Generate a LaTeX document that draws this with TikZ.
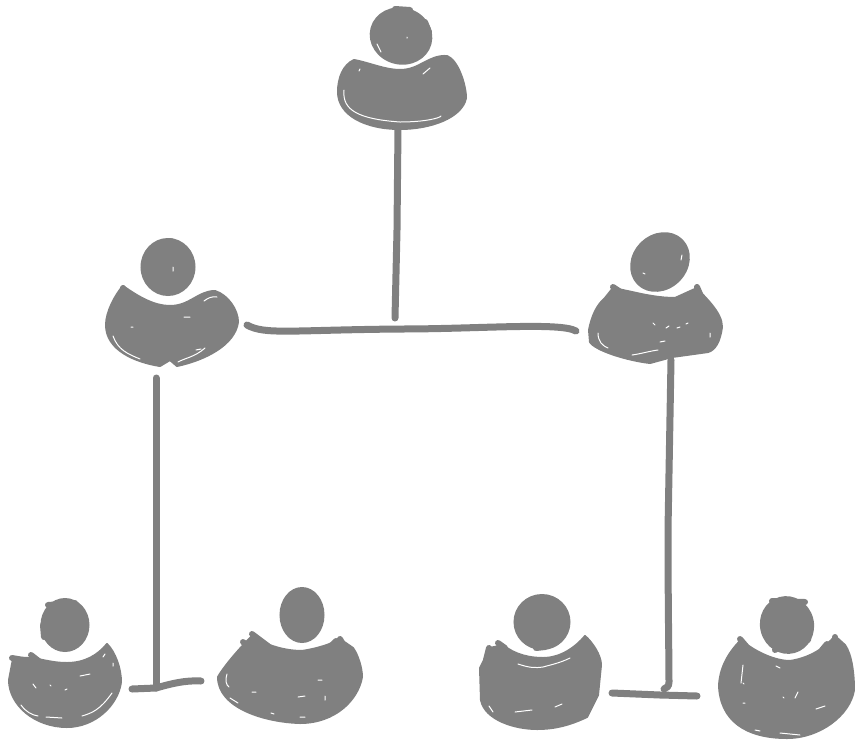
\documentclass[tikz,border=0pt]{standalone}
\usetikzlibrary{shapes.geometric}
\definecolor{sketch}{HTML}{808080}
\tikzset{
    head/.style={ellipse,fill=sketch,draw=sketch,line width=2pt,inner sep=0pt},
    body/.style={fill=sketch,draw=sketch,line width=2pt,line join=round},
    blob/.style={draw=sketch,line width=6pt,line cap=round},
    link/.style={draw=sketch,line width=7pt,line cap=round,line join=round},
    gap/.style={draw=white,line width=1pt,line cap=round}
}
\begin{document}
\begin{tikzpicture}[x=1pt,y=-1pt]
        \useasboundingbox (0,0) rectangle (855,740);

        % heads
        \node (H1) at (401,36) [head,rotate=-15,minimum width=61pt,minimum height=55pt]{};
        \node (H2) at (168,267) [head,minimum width=53pt,minimum height=56pt]{};
        \node (H3) at (660,262) [head,rotate=45,minimum width=62pt,minimum height=53pt]{};
        \node (H4) at (65,625) [head,minimum width=47pt,minimum height=52pt]{};
        \node (H5) at (302,615) [head,minimum width=43pt,minimum height=54pt]{};
        \node (H6) at (542,622) [head,minimum width=55pt,minimum height=54pt]{};
        \node (H7) at (787,625) [head,rotate=15,minimum width=52pt,minimum height=56pt]{};

        % lumps on the heads
        \path[blob] (395,9) -- (410,10);
        \path[blob] (425,22) -- (429,32);
        \path[blob] (171,241) -- (178,245);
        \path[blob] (48,605) -- (75,603);
        \path[blob] (43,625) -- (44,637);
        \path[blob] (302,590) -- (312,597);
        \path[blob] (536,648) -- (545,647);
        \path[blob] (772,601) -- (805,602);
        \path[blob] (775,650) -- (782,645);
        \path[blob] (810,625) -- (808,640);

        % bodies
        \path[body] (354,60) .. controls (370,63) and (385,70) .. (400,70) .. controls (420,70) and (428,55) .. (447,56)
            .. controls (458,60) and (466,85) .. (466,98) .. controls (462,118) and (430,129) .. (400,129)
            .. controls (365,129) and (338,115) .. (338,92) .. controls (338,78) and (343,65) .. (354,60) -- cycle;
        \path[body] (123,286) .. controls (140,298) and (155,306) .. (170,306) .. controls (190,306) and (198,291) .. (215,291)
            .. controls (228,295) and (238,310) .. (238,322) .. controls (235,345) and (205,360) .. (177,366)
            -- (170,360) -- (160,366) .. controls (135,362) and (106,350) .. (106,325) .. controls (106,312) and (115,295) .. (123,286) -- cycle;
        \path[body] (632,292) .. controls (645,295) and (660,298) .. (675,298) -- (697,288)
            .. controls (705,298) and (722,312) .. (722,327) .. controls (720,342) and (715,350) .. (708,352) -- (672,357)
            -- (650,363) .. controls (625,360) and (595,350) .. (590,342) -- (589,330) .. controls (592,315) and (597,305) .. (605,298)
            -- (613,288) -- cycle;
        \path[body] (13,659) .. controls (35,655) and (45,663) .. (67,663) .. controls (85,663) and (98,655) .. (107,644)
            .. controls (115,652) and (121,668) .. (121,682) .. controls (118,705) and (95,727) .. (67,727)
            .. controls (35,727) and (9,705) .. (9,680) -- cycle;
        \path[body] (252,636) .. controls (270,648) and (290,651) .. (302,651) .. controls (315,649) and (330,645) .. (340,639)
            -- (353,648) .. controls (358,655) and (362,668) .. (362,677) .. controls (358,700) and (335,723) .. (300,723)
            .. controls (265,722) and (218,708) .. (218,677) .. controls (225,665) and (240,648) .. (252,636) -- cycle;
        \path[body] (490,648) -- (503,645) .. controls (515,655) and (530,658) .. (543,658) .. controls (560,658) and (575,648) .. (585,636)
            .. controls (592,642) and (601,655) .. (601,665) -- (598,695) -- (587,717) .. controls (570,725) and (555,729) .. (537,729)
            .. controls (515,729) and (485,720) .. (481,700) -- (480,668) -- cycle;
        \path[body] (741,640) .. controls (755,652) and (775,661) .. (790,661) .. controls (810,658) and (825,648) .. (835,636)
            -- (845,645) .. controls (852,655) and (854,675) .. (854,690) .. controls (850,715) and (820,738) .. (787,738)
            .. controls (745,738) and (720,720) .. (719,685) .. controls (720,670) and (726,655) .. (741,640) -- cycle;

        % fingers on the shoulders
        \path[blob] (12,658) -- (24,660);
        \path[blob] (31,655) -- (40,662);
        \path[blob] (243,642) -- (250,648);
        \path[blob] (252,634) -- (268,646);
        \path[blob] (331,646) -- (336,641);
        \path[blob] (340,639) -- (345,648);
        \path[blob] (489,648) -- (486,660);
        \path[blob] (498,643) -- (505,648);
        \path[blob] (740,639) -- (746,646);
        \path[blob] (827,644) -- (822,650);
        \path[blob] (835,637) -- (835,646);
        \path[blob] (123,288) -- (127,297);
        \path[blob] (613,287) -- (622,293);
        \path[blob] (697,287) -- (700,294);

        % scratches left open in the fill
        \draw[gap] (344,90) .. controls (342,110) and (358,119) .. (400,122) .. controls (425,122) and (440,118) .. (441,116)
            (377,44) -- (381,52) (407,37) -- (407,38) (360,69) -- (359,71) (430,68) -- (423,74);
        \draw[gap] (113,336) .. controls (118,350) and (128,354) .. (140,359) (178,362) .. controls (185,358) and (195,357) .. (205,348)
            (204,301) .. controls (208,298) and (212,296) .. (217,297) (184,317) -- (190,317) (131,327) -- (133,327)
            (196,350) -- (201,349) (173,267) -- (173,271);
        \draw[gap] (598,333) .. controls (598,342) and (603,346) .. (608,348) (632,355) .. controls (640,354) and (650,351) .. (658,350)
            (653,323) -- (655,325) (666,328) -- (669,326) (677,328) -- (680,327) (686,324) -- (688,323)
            (660,342) -- (665,341) (710,333) -- (710,337) (682,255) -- (681,260) (643,273) -- (645,274);
        \draw[gap] (21,705) .. controls (26,712) and (32,715) .. (38,716) (82,716) .. controls (92,713) and (100,710) .. (112,693)
            (46,717) -- (62,718) (33,684) -- (36,688) (50,685) -- (51,686) (65,690) -- (67,689) (80,676) -- (90,674)
            (103,657) -- (105,654) (113,663) -- (113,666);
        \draw[gap] (227,674) .. controls (225,680) and (226,685) .. (229,687) (298,697) -- (305,696) (252,692) -- (256,692)
            (318,680) -- (322,680) (230,698) -- (238,703) (271,713) -- (274,714) (300,717) -- (305,717) (325,696) -- (325,700);
        \draw[gap] (518,664) .. controls (530,668) and (535,668) .. (543,667) .. controls (550,665) and (560,663) .. (570,658)
            (515,712) -- (532,710) (489,706) -- (493,712) (555,707) -- (562,704) (570,640) -- (574,642);
        \draw[gap] (743,665) -- (741,683) (800,735) -- (780,733) (795,698) -- (798,692) (743,683) -- (744,684)
            (743,703) -- (745,703) (783,697) -- (784,698) (816,709) -- (825,706) (755,730) -- (760,731) (776,666) -- (780,668);

        % connectors
        \coordinate (a) at (398,128);
        \coordinate (b) at (395,318);
        \coordinate (c) at (247,325);
        \coordinate (d) at (576,331);
        \coordinate (e) at (156,378);
        \coordinate (f) at (156,688);
        \coordinate (g) at (132,689);
        \coordinate (h) at (201,681);
        \coordinate (i) at (671,360);
        \coordinate (j) at (664,689);
        \coordinate (k) at (612,693);
        \coordinate (l) at (697,696);

        \path[link] (a) -- (397,230) -- (b);
        \path[link] (c) .. controls (265,335) and (290,330) .. (400,329) .. controls (480,329) and (560,322) .. (d);
        \path[link] (e) -- (f);
        \path[link] (g) -- (f) .. controls (170,684) and (185,680) .. (h);
        \path[link] (i) -- (668,530) .. controls (668,600) and (669,660) .. (669,682) .. controls (669,686) and (667,688) .. (j);
        \path[link] (k) -- (660,695) -- (l);
    \end{tikzpicture}
\end{document}
